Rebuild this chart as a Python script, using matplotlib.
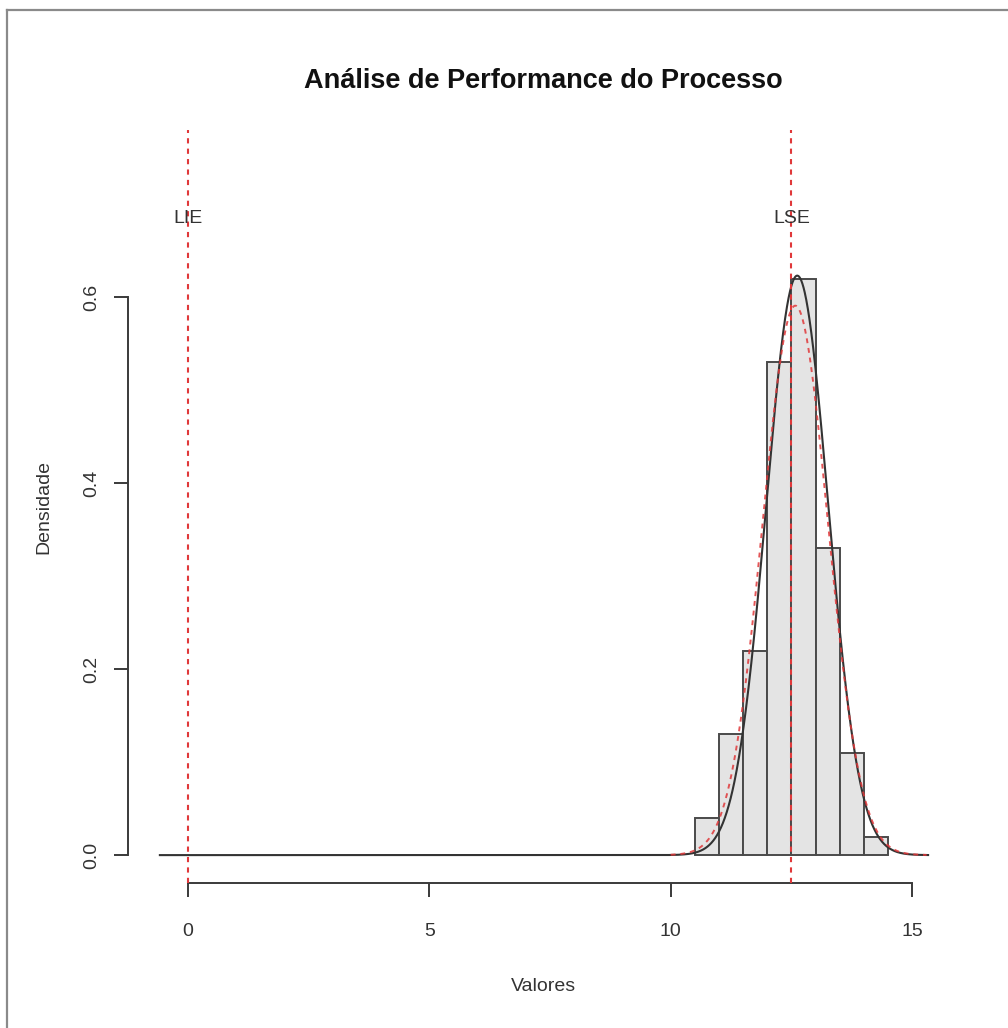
import numpy as np
import matplotlib
matplotlib.use("Agg")
import matplotlib.pyplot as plt
from matplotlib.lines import Line2D

plt.rcParams['font.family'] = ['Liberation Sans', 'DejaVu Sans']

# Histogram data (density scale, bin width 0.5)
bin_edges = [10.5, 11.0, 11.5, 12.0, 12.5, 13.0, 13.5, 14.0, 14.5]
densities = [0.04, 0.13, 0.22, 0.53, 0.62, 0.33, 0.11, 0.02]

# Fitted normal curves: short-term (solid) and overall (dashed)
mean_within, sd_within = 12.62, 0.64
mean_overall, sd_overall = 12.58, 0.675

# Specification limits
lie, lse = 0.0, 12.5
spec_labels = ["LIE", "LSE"]

x_ticks = [0, 5, 10, 15]
y_ticks = [0.0, 0.2, 0.4, 0.6]
y_tick_labels = ["0.0", "0.2", "0.4", "0.6"]

ink = "#3a3a3a"
red = "#e0383a"

fig = plt.figure(figsize=(10.08, 10.28), dpi=100)
ax = fig.add_axes([0.12698, 0.14105, 0.82440, 0.73249])
ax.set_xlim(-1.24, 15.97)
ax.set_ylim(-0.030, 0.78)

# histogram bars
widths = np.diff(bin_edges)
ax.bar(bin_edges[:-1], densities, width=widths, align='edge',
       color="#e4e4e4", edgecolor="#4a4a4a", linewidth=1.4, zorder=2)

# normal density curves
xs = np.linspace(-0.58, 15.33, 2000)
pdf_w = np.exp(-0.5 * ((xs - mean_within) / sd_within) ** 2) / (sd_within * np.sqrt(2 * np.pi))
ax.plot(xs, pdf_w, color="#333333", linewidth=1.5, zorder=3)

xr = np.linspace(10.0, 15.3, 800)
pdf_o = np.exp(-0.5 * ((xr - mean_overall) / sd_overall) ** 2) / (sd_overall * np.sqrt(2 * np.pi))
ax.plot(xr, pdf_o, color=red, linewidth=1.4, linestyle=(0, (2.5, 2.5)), alpha=0.85, zorder=4)

# specification limits
for xv, lab in zip([lie, lse], spec_labels):
    ax.axvline(xv, color=red, linewidth=1.5, linestyle=(0, (2.5, 2.5)), zorder=5)
    ax.text(xv, 0.685, lab, ha='center', va='center', fontsize=14, color="#333333", zorder=6)

# R-style axes: detached lines spanning first to last tick
for s in ['top', 'right']:
    ax.spines[s].set_visible(False)
for s in ['left', 'bottom']:
    ax.spines[s].set_color(ink)
    ax.spines[s].set_linewidth(1.4)
ax.spines['left'].set_bounds(0, 0.6)
ax.spines['bottom'].set_bounds(0, 15)

ax.set_xticks(x_ticks)
ax.set_xticklabels([str(v) for v in x_ticks])
ax.set_yticks(y_ticks)
ax.set_yticklabels(y_tick_labels, rotation=90, va='center')
ax.tick_params(axis='both', direction='out', length=10, width=1.4, color=ink,
               labelsize=14, labelcolor="#333333")
ax.tick_params(axis='x', pad=19)
ax.tick_params(axis='y', pad=10)

ax.set_xlabel("Valores", fontsize=14, color="#333333", labelpad=27)
ax.set_ylabel("Densidade", fontsize=14, color="#333333", labelpad=22)
ax.set_title("Análise de Performance do Processo", fontsize=19.5, fontweight='bold',
             color="#111111", pad=30)

# outer frame (left and top edges)
fig.add_artist(Line2D([7 / 1008, 7 / 1008], [0, 1 - 10 / 1028], transform=fig.transFigure,
                      color="#8a8a8a", linewidth=1.6))
fig.add_artist(Line2D([7 / 1008, 1], [1 - 10 / 1028, 1 - 10 / 1028], transform=fig.transFigure,
                      color="#8a8a8a", linewidth=1.6))

fig.savefig("out.png", dpi=100, facecolor="white")
